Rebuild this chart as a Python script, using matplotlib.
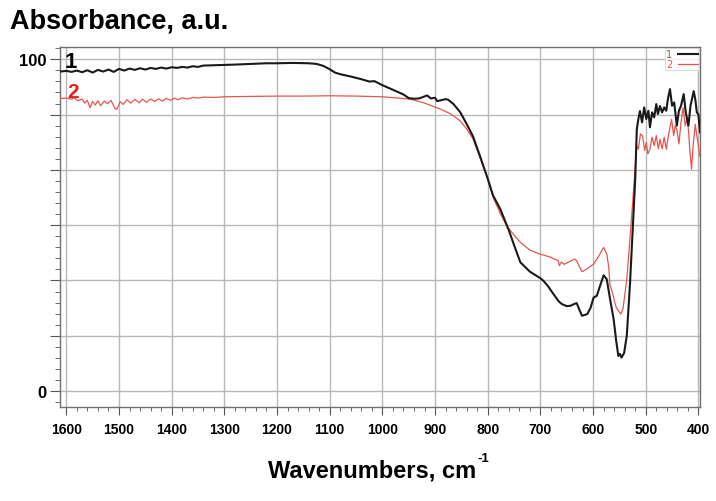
import numpy as np
import matplotlib
matplotlib.use("Agg")
import matplotlib.pyplot as plt
from matplotlib.ticker import MultipleLocator, FixedLocator

# spectrum 1 (black)
wn1 = [1612, 1600, 1590, 1580, 1570, 1560, 1550, 1540, 1530, 1520, 1510, 1500,
       1490, 1480, 1470, 1460, 1450, 1440, 1430, 1420, 1410, 1400, 1390, 1380,
       1370, 1360, 1350, 1340, 1320, 1300, 1280, 1250, 1220, 1200, 1170, 1140,
       1125, 1112, 1100, 1090, 1080, 1060, 1040, 1025, 1015, 1000, 980, 960,
       950, 940, 930, 920, 915, 908, 900, 896, 890, 880, 875, 865, 852, 840,
       828, 815, 800, 790, 776, 760, 750, 738, 720, 700, 694, 685, 675, 665,
       659, 650, 643, 635, 631, 626, 621, 611, 605, 599, 593, 586, 580, 574,
       568, 561, 556, 552, 549, 546, 541, 536, 530, 525, 520, 517, 514, 511,
       507, 503, 499, 495, 492, 488, 484, 480, 477, 473, 469, 465, 461, 458,
       454, 450, 446, 441, 437, 433, 428, 424, 419, 415, 411, 409, 406, 403,
       400, 397]
abs1 = [96.3, 96.5, 96.2, 96.6, 96.1, 96.7, 96.0, 96.8, 96.3, 96.9, 96.2, 97.1,
        96.6, 97.2, 96.8, 97.3, 96.9, 97.4, 97.1, 97.5, 97.2, 97.6, 97.4, 97.7,
        97.5, 97.9, 97.7, 98.1, 98.2, 98.3, 98.4, 98.6, 98.8, 98.8, 98.9, 98.8,
        98.6, 98.0, 97.0, 96.0, 95.5, 94.8, 94.0, 93.3, 93.4, 92.2, 90.8, 89.4,
        88.3, 88.1, 88.2, 88.8, 89.1, 88.2, 88.4, 87.4, 87.6, 88.0, 87.8, 86.5,
        84.0, 80.5, 76.8, 71.0, 64.0, 59.0, 54.8, 48.5, 44.0, 38.8, 36.0, 34.0,
        33.2, 31.5, 29.2, 27.0, 26.2, 25.6, 25.7, 26.3, 26.5, 24.5, 22.7, 23.2,
        25.0, 28.2, 28.7, 32.0, 34.9, 33.7, 28.0, 21.7, 15.0, 10.6, 11.2, 10.1,
        11.5, 16.7, 32.0, 48.0, 63.9, 78.9, 82.0, 84.4, 81.0, 85.5, 82.0, 84.5,
        79.5, 84.0, 82.5, 86.5, 83.5, 85.9, 84.0, 85.5, 84.5, 88.0, 91.0, 86.0,
        87.0, 80.0, 84.5, 86.0, 89.5, 84.0, 80.0, 86.0, 89.0, 90.4, 88.0, 84.0,
        83.4, 78.0]

# spectrum 2 (red)
wn2 = [1612, 1600, 1590, 1585, 1578, 1570, 1565, 1560, 1555, 1550, 1545, 1540,
       1535, 1528, 1522, 1515, 1508, 1504, 1498, 1492, 1485, 1478, 1470, 1462,
       1455, 1448, 1440, 1432, 1425, 1418, 1410, 1402, 1395, 1388, 1380, 1370,
       1360, 1350, 1340, 1320, 1300, 1250, 1200, 1150, 1100, 1050, 1000, 970,
       947, 920, 890, 870, 852, 840, 828, 815, 800, 790, 776, 764, 750, 738,
       720, 700, 694, 680, 670, 666, 664, 660, 655, 645, 635, 631, 626, 621,
       612, 605, 599, 590, 583, 580, 574, 570, 568, 563, 559, 556, 551, 547,
       543, 536, 528, 522, 517, 514, 510, 506, 502, 499, 496, 492, 488, 484,
       480, 476, 473, 469, 465, 461, 458, 454, 451, 447, 444, 441, 437, 433,
       429, 425, 422, 419, 416, 413, 410, 406, 403, 400, 398]
abs2 = [88.2, 88.3, 88.0, 88.4, 87.5, 88.0, 86.8, 87.6, 85.4, 87.3, 86.2, 87.5,
        86.0, 87.4, 86.6, 87.6, 85.2, 84.9, 87.2, 86.4, 87.8, 86.8, 87.9, 86.9,
        88.0, 87.0, 88.0, 87.3, 88.1, 87.4, 88.2, 87.6, 88.3, 87.8, 88.4, 88.0,
        88.5, 88.3, 88.6, 88.5, 88.7, 88.8, 88.9, 88.9, 89.0, 88.9, 88.7, 88.3,
        88.0, 86.8, 85.0, 83.5, 81.4, 79.0, 76.0, 70.5, 64.0, 58.5, 53.5, 49.8,
        47.0, 44.8, 42.5, 41.2, 41.0, 40.3, 39.6, 39.3, 37.8, 38.9, 38.2, 39.0,
        39.8, 39.3, 37.5, 36.0, 36.8, 37.6, 38.3, 40.5, 42.5, 43.3, 41.3, 37.0,
        32.0, 29.5, 26.8, 25.2, 24.0, 23.2, 25.0, 33.7, 50.0, 63.0, 74.0, 72.9,
        77.5, 76.9, 72.5, 75.0, 71.5, 72.9, 76.5, 74.0, 77.0, 73.0, 75.9, 73.0,
        76.5, 72.9, 76.0, 79.5, 81.9, 77.0, 80.0, 78.9, 74.5, 81.0, 85.4, 80.0,
        82.0, 78.9, 72.0, 66.9, 74.0, 80.4, 77.0, 74.0, 70.9]

x_major = [1600, 1500, 1400, 1300, 1200, 1100, 1000, 900, 800, 700, 600, 500, 400]
y_grid = [0, 100 / 6, 200 / 6, 50, 400 / 6, 500 / 6, 100]
y_labels = {0: "0", 100: "100"}

narrow = ["Liberation Sans Narrow", "Liberation Sans", "DejaVu Sans"]
wide = ["Liberation Sans", "DejaVu Sans"]

fig = plt.figure(figsize=(7.16, 5.02), dpi=100)
ax = fig.add_axes([60 / 716, 1 - 408 / 502, 640 / 716, 360 / 502])

l2, = ax.plot(wn2, abs2, color="#e8554e", lw=0.9, label="2", zorder=3)
l1, = ax.plot(wn1, abs1, color="#1a1a1a", lw=1.5, label="1", zorder=4)

ax.set_xlim(1612, 397)
ax.set_ylim(-4.8, 103.7)

# grid + ticks
ax.xaxis.set_major_locator(FixedLocator(x_major))
ax.xaxis.set_minor_locator(MultipleLocator(20))
ax.yaxis.set_major_locator(FixedLocator(y_grid))
ax.yaxis.set_minor_locator(MultipleLocator(100 / 30))
ax.set_yticklabels([y_labels.get(round(v), "") for v in y_grid])
ax.grid(True, which="major", color="#b8b8b8", lw=1.0)
ax.tick_params(axis="x", which="major", length=6, color="#555", pad=5)
ax.tick_params(axis="x", which="minor", length=3, color="#555")
ax.tick_params(axis="y", which="major", length=7.5, color="#555", pad=2)
ax.tick_params(axis="y", which="minor", length=3.6, color="#555")
for s in ax.spines.values():
    s.set_color("#707070")
    s.set_linewidth(1.0)

for lab in ax.get_xticklabels():
    lab.set_family(narrow)
    lab.set_fontweight("bold")
    lab.set_fontsize(10)
for lab in ax.get_yticklabels():
    lab.set_family(wide)
    lab.set_fontweight("bold")
    lab.set_fontsize(12)

# curve numbers
ax.text(0.008, 0.944, "1", transform=ax.transAxes, fontsize=16,
        fontweight="bold", family=wide, color="black")
ax.text(0.011, 0.862, "2", transform=ax.transAxes, fontsize=15,
        fontweight="bold", family=wide, color="#e8201b")

leg = ax.legend([l1, l2], ["1", "2"], loc="upper right", fontsize=7,
                handlelength=2.0, markerfirst=False, borderpad=0.1,
                labelspacing=0.0, handletextpad=0.6, borderaxespad=0.15,
                fancybox=False, labelcolor=["#666666", "#e8554e"])
leg.get_frame().set_edgecolor("#cccccc")
leg.get_frame().set_linewidth(0.6)

fig.text(10 / 716, 1 - 29 / 502, "Absorbance, a.u.", fontsize=19.5,
         fontweight="bold", family=wide)
fig.text(476 / 716, 1 - 478 / 502, "Wavenumbers, cm", fontsize=17,
         fontweight="bold", family=narrow, ha="right")
fig.text(477 / 716, 1 - 462 / 502, "-1", fontsize=9.5,
         fontweight="bold", family=narrow, ha="left")

fig.savefig("out.png", dpi=100)
